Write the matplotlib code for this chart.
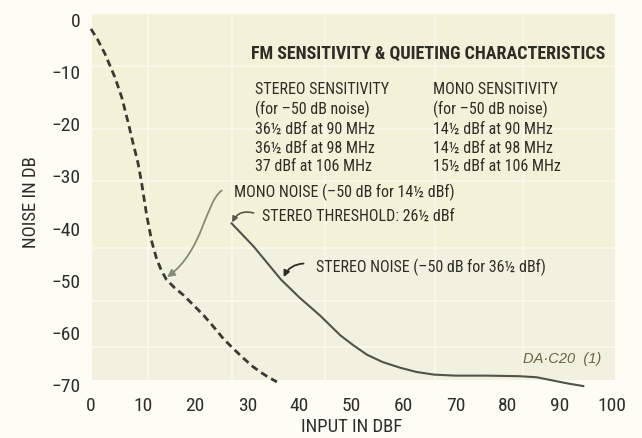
import matplotlib
matplotlib.use("Agg")
from matplotlib import pyplot as plt
from matplotlib import font_manager
from matplotlib.patches import Rectangle, FancyArrowPatch
from matplotlib.path import Path

# pick a narrow gothic face if one is installed
names = {f.name for f in font_manager.fontManager.ttflist}
condensed = sorted({f.name for f in font_manager.fontManager.ttflist
                    if "condensed" in str(f.stretch) or "Narrow" in f.name or "Condensed" in f.name})
narrow = next((n for n in ["Roboto Condensed", "Liberation Sans Narrow", "Noto Sans Condensed",
                           "DejaVu Sans Condensed", "Open Sans Condensed"] if n in names), None)
if narrow is None and condensed:
    narrow = condensed[0]
plt.rcParams["font.family"] = [narrow or "DejaVu Sans", "DejaVu Sans"]
if narrow is None:
    plt.rcParams["font.stretch"] = "condensed"

# mono noise (dashed) and stereo noise (solid), dB vs dBf input
mono_x = [0, 1.3, 2.7, 4.6, 5.9, 7.2, 8.1, 9.0, 9.7, 10.7, 11.7, 12.6, 13.5, 14.5, 16.0,
          17.8, 19.7, 21.6, 23.5, 25.4, 27.4, 29.3, 31.0, 32.5, 34.2, 35.7]
mono_y = [-1.9, -4.0, -6.7, -11.2, -15.0, -20.1, -23.9, -27.5, -31.3, -37.7, -42.8, -46.0, -48.2,
          -50.0, -51.5, -53.0, -54.9, -56.8, -59.0, -61.3, -63.3, -65.1, -66.6, -67.7, -68.8, -69.6]

stereo_x = [27.0, 31.2, 36.5, 40.0, 44.0, 47.9, 50.4, 53.0, 56.0, 59.4, 62.5, 65.8, 70.0,
            76.0, 82.0, 85.5, 88.5, 91.5, 94.5]
stereo_y = [-39.2, -43.6, -50.0, -53.4, -56.9, -60.7, -62.6, -64.4, -65.8, -66.9, -67.7, -68.2,
            -68.4, -68.4, -68.5, -68.7, -69.3, -69.9, -70.4]

xticks = [0, 10, 20, 30, 40, 50, 60, 70, 80, 90, 100]
yticks = [0, -10, -20, -30, -40, -50, -60, -70]

stereo_lines = ["STEREO SENSITIVITY", "(for \u201350 dB noise)",
                "36\u00bd dBf at 90 MHz", "36\u00bd dBf at 98 MHz", "37 dBf at 106 MHz"]
mono_lines = ["MONO SENSITIVITY", "(for \u201350 dB noise)",
              "14\u00bd dBf at 90 MHz", "14\u00bd dBf at 98 MHz", "15\u00bd dBf at 106 MHz"]

ink = "#2d2d27"

fig = plt.figure(figsize=(6.42, 4.39), dpi=100, facecolor="#fdfdf6")
ax = fig.add_axes([0.1336, 0.0993, 0.8277, 0.8788])
ax.set_xlim(-1, 101)
ax.set_ylim(-72, 2)
ax.set_facecolor("none")
for s in ax.spines.values():
    s.set_visible(False)

# tinted chart field with faint tile seams
ax.add_patch(Rectangle((0.2, -69.3), 100.3, 70.3, facecolor="#f0f1de", edgecolor="none", zorder=0))
ax.add_patch(Rectangle((0.2, -44), 100.3, 45, facecolor="#f6f3d6", edgecolor="none", zorder=0, alpha=0.6))
for yv in [-9, -21, -31, -44, -54, -63]:
    ax.plot([0.2, 100.5], [yv, yv], color="#fafaee", lw=1.2, zorder=0.5)
for xv in [11, 27, 45, 66, 83]:
    ax.plot([xv, xv], [-69.3, 1], color="#fafaee", lw=1.2, zorder=0.5)

ax.plot(mono_x, mono_y, color="#3a3a34", lw=2.0, ls=(0, (2.6, 1.6)), clip_on=False, zorder=3)
ax.plot(stereo_x, stereo_y, color="#50534a", lw=1.5, clip_on=False, zorder=3)

ax.set_xticks(xticks)
ax.set_yticks(yticks)
ax.set_xticklabels([str(v) for v in xticks])
ax.set_yticklabels(["0"] + ["\u2212" + str(-v) for v in yticks[1:]])
ax.tick_params(length=0, labelsize=14, colors=ink)
ax.tick_params(axis="x", pad=1)
ax.tick_params(axis="y", pad=4)
ax.set_xlabel("INPUT IN DBF", fontsize=13.5, color=ink, labelpad=2)
ax.set_ylabel("NOISE IN DB", fontsize=13.5, color=ink, labelpad=8)

ax.text(30.7, -6.4, "FM SENSITIVITY & QUIETING CHARACTERISTICS", fontsize=13,
        fontweight="bold", color=ink, va="center", ha="left", zorder=4)
ax.text(31.5, -11.9, "\n".join(stereo_lines), fontsize=11.5, color=ink, va="top",
        ha="left", linespacing=1.3, zorder=4)
ax.text(65.6, -11.9, "\n".join(mono_lines), fontsize=11.5, color=ink, va="top",
        ha="left", linespacing=1.3, zorder=4)

# callouts: text and leader drawn separately
ax.text(27.4, -33, "MONO NOISE (\u201350 dB for 14\u00bd dBf)", fontsize=11.5, color=ink,
        va="center", ha="left", zorder=4)
mono_leader = Path([(25.1, -32.9), (22.0, -35.0), (21.5, -44.5), (14.6, -49.5)],
                   [Path.MOVETO, Path.CURVE4, Path.CURVE4, Path.CURVE4])
ax.add_patch(FancyArrowPatch(path=mono_leader, arrowstyle="-|>", color="#858b78", lw=1.3,
                             mutation_scale=11, zorder=4))
ax.text(32.9, -37.7, "STEREO THRESHOLD: 26\u00bd dBf", fontsize=11.5, color=ink,
        va="center", ha="left", zorder=4)
ax.annotate("", xy=(27.1, -39.0), xytext=(31.2, -37.2), zorder=4,
            arrowprops=dict(arrowstyle="-|>", color="#55584c", lw=1.2, shrinkA=0,
                            shrinkB=0, mutation_scale=8, connectionstyle="arc3,rad=0.4"))
ax.text(43.1, -47.4, "STEREO NOISE (\u201350 dB for 36\u00bd dBf)", fontsize=11.5, color=ink,
        va="center", ha="left", zorder=4)
ax.annotate("", xy=(37.0, -49.5), xytext=(40.8, -46.9), zorder=4,
            arrowprops=dict(arrowstyle="-|>", color=ink, lw=1.3, shrinkA=0,
                            shrinkB=0, mutation_scale=9, connectionstyle="arc3,rad=0.3"))

ax.text(82.9, -65, "DA\u00b7C20  (1)", fontsize=10.5, fontstyle="italic",
        color="#6e6340", va="center", ha="left", zorder=4,
        family=["Liberation Sans", "DejaVu Sans"])

fig.savefig("out.png", dpi=100, facecolor=fig.get_facecolor())
